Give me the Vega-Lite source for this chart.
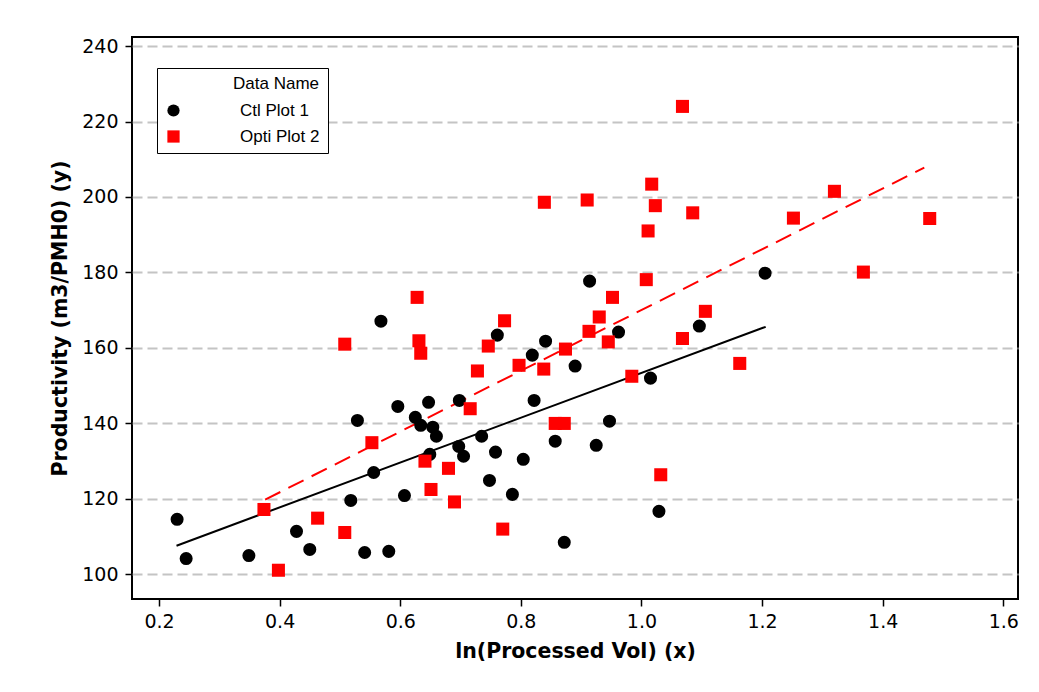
{
  "$schema": "https://vega.github.io/schema/vega-lite/v6.json",
  "width": 886,
  "height": 562,
  "autosize": {"type": "none"},
  "padding": {"left": 132, "top": 37, "right": 21, "bottom": 93},
  "background": "white",
  "config": {
    "view": {"stroke": "black", "strokeWidth": 2},
    "axis": {
      "labelFont": "DejaVu Sans",
      "labelFontSize": 19,
      "labelColor": "black",
      "titleFont": "DejaVu Sans",
      "titleFontWeight": "bold",
      "titleFontSize": 20.5,
      "titleColor": "black",
      "domain": false,
      "tickColor": "black",
      "tickSize": 7,
      "tickWidth": 1.5
    }
  },
  "datasets": {
    "points": [
      {"series": "Ctl Plot 1", "x": 0.230, "y": 114.6},
      {"series": "Ctl Plot 1", "x": 0.245, "y": 104.2},
      {"series": "Ctl Plot 1", "x": 0.349, "y": 105.0},
      {"series": "Ctl Plot 1", "x": 0.428, "y": 111.4},
      {"series": "Ctl Plot 1", "x": 0.450, "y": 106.6},
      {"series": "Ctl Plot 1", "x": 0.518, "y": 119.6},
      {"series": "Ctl Plot 1", "x": 0.529, "y": 140.8},
      {"series": "Ctl Plot 1", "x": 0.541, "y": 105.8},
      {"series": "Ctl Plot 1", "x": 0.556, "y": 127.0},
      {"series": "Ctl Plot 1", "x": 0.568, "y": 167.1},
      {"series": "Ctl Plot 1", "x": 0.581, "y": 106.1},
      {"series": "Ctl Plot 1", "x": 0.596, "y": 144.5},
      {"series": "Ctl Plot 1", "x": 0.607, "y": 120.9},
      {"series": "Ctl Plot 1", "x": 0.625, "y": 141.6},
      {"series": "Ctl Plot 1", "x": 0.634, "y": 139.5},
      {"series": "Ctl Plot 1", "x": 0.647, "y": 145.6},
      {"series": "Ctl Plot 1", "x": 0.649, "y": 131.8},
      {"series": "Ctl Plot 1", "x": 0.654, "y": 139.0},
      {"series": "Ctl Plot 1", "x": 0.660, "y": 136.6},
      {"series": "Ctl Plot 1", "x": 0.698, "y": 146.1},
      {"series": "Ctl Plot 1", "x": 0.697, "y": 133.9},
      {"series": "Ctl Plot 1", "x": 0.705, "y": 131.3},
      {"series": "Ctl Plot 1", "x": 0.735, "y": 136.6},
      {"series": "Ctl Plot 1", "x": 0.748, "y": 124.9},
      {"series": "Ctl Plot 1", "x": 0.758, "y": 132.4},
      {"series": "Ctl Plot 1", "x": 0.761, "y": 163.4},
      {"series": "Ctl Plot 1", "x": 0.786, "y": 121.2},
      {"series": "Ctl Plot 1", "x": 0.804, "y": 130.5},
      {"series": "Ctl Plot 1", "x": 0.819, "y": 158.1},
      {"series": "Ctl Plot 1", "x": 0.822, "y": 146.1},
      {"series": "Ctl Plot 1", "x": 0.841, "y": 161.8},
      {"series": "Ctl Plot 1", "x": 0.857, "y": 135.3},
      {"series": "Ctl Plot 1", "x": 0.872, "y": 108.5},
      {"series": "Ctl Plot 1", "x": 0.890, "y": 155.2},
      {"series": "Ctl Plot 1", "x": 0.914, "y": 177.7},
      {"series": "Ctl Plot 1", "x": 0.925, "y": 134.2},
      {"series": "Ctl Plot 1", "x": 0.947, "y": 140.6},
      {"series": "Ctl Plot 1", "x": 0.962, "y": 164.2},
      {"series": "Ctl Plot 1", "x": 1.015, "y": 152.0},
      {"series": "Ctl Plot 1", "x": 1.029, "y": 116.7},
      {"series": "Ctl Plot 1", "x": 1.096, "y": 165.8},
      {"series": "Ctl Plot 1", "x": 1.205, "y": 179.8},
      {"series": "Opti Plot 2", "x": 0.374, "y": 117.2},
      {"series": "Opti Plot 2", "x": 0.398, "y": 101.1},
      {"series": "Opti Plot 2", "x": 0.463, "y": 114.9},
      {"series": "Opti Plot 2", "x": 0.508, "y": 111.1},
      {"series": "Opti Plot 2", "x": 0.508, "y": 161.0},
      {"series": "Opti Plot 2", "x": 0.553, "y": 134.9},
      {"series": "Opti Plot 2", "x": 0.628, "y": 173.4},
      {"series": "Opti Plot 2", "x": 0.631, "y": 161.9},
      {"series": "Opti Plot 2", "x": 0.634, "y": 158.6},
      {"series": "Opti Plot 2", "x": 0.641, "y": 130.0},
      {"series": "Opti Plot 2", "x": 0.651, "y": 122.5},
      {"series": "Opti Plot 2", "x": 0.680, "y": 128.1},
      {"series": "Opti Plot 2", "x": 0.690, "y": 119.2},
      {"series": "Opti Plot 2", "x": 0.716, "y": 143.9},
      {"series": "Opti Plot 2", "x": 0.728, "y": 153.9},
      {"series": "Opti Plot 2", "x": 0.746, "y": 160.5},
      {"series": "Opti Plot 2", "x": 0.773, "y": 167.2},
      {"series": "Opti Plot 2", "x": 0.770, "y": 112.0},
      {"series": "Opti Plot 2", "x": 0.797, "y": 155.4},
      {"series": "Opti Plot 2", "x": 0.838, "y": 154.4},
      {"series": "Opti Plot 2", "x": 0.839, "y": 198.6},
      {"series": "Opti Plot 2", "x": 0.857, "y": 140.0},
      {"series": "Opti Plot 2", "x": 0.872, "y": 140.0},
      {"series": "Opti Plot 2", "x": 0.874, "y": 159.7},
      {"series": "Opti Plot 2", "x": 0.910, "y": 199.2},
      {"series": "Opti Plot 2", "x": 0.913, "y": 164.4},
      {"series": "Opti Plot 2", "x": 0.930, "y": 168.2},
      {"series": "Opti Plot 2", "x": 0.945, "y": 161.6},
      {"series": "Opti Plot 2", "x": 0.952, "y": 173.4},
      {"series": "Opti Plot 2", "x": 0.984, "y": 152.5},
      {"series": "Opti Plot 2", "x": 1.008, "y": 178.1},
      {"series": "Opti Plot 2", "x": 1.011, "y": 191.0},
      {"series": "Opti Plot 2", "x": 1.017, "y": 203.4},
      {"series": "Opti Plot 2", "x": 1.023, "y": 197.7},
      {"series": "Opti Plot 2", "x": 1.032, "y": 126.4},
      {"series": "Opti Plot 2", "x": 1.068, "y": 224.0},
      {"series": "Opti Plot 2", "x": 1.068, "y": 162.5},
      {"series": "Opti Plot 2", "x": 1.085, "y": 195.8},
      {"series": "Opti Plot 2", "x": 1.106, "y": 169.7},
      {"series": "Opti Plot 2", "x": 1.163, "y": 155.9},
      {"series": "Opti Plot 2", "x": 1.252, "y": 194.4},
      {"series": "Opti Plot 2", "x": 1.320, "y": 201.5},
      {"series": "Opti Plot 2", "x": 1.368, "y": 180.1},
      {"series": "Opti Plot 2", "x": 1.478, "y": 194.3}
    ],
    "fits": [
      {"series": "Ctl Plot 1", "x": 0.229, "y": 107.6},
      {"series": "Ctl Plot 1", "x": 1.206, "y": 165.6},
      {"series": "Opti Plot 2", "x": 0.376, "y": 119.8},
      {"series": "Opti Plot 2", "x": 1.469, "y": 207.8}
    ]
  },
  "encoding": {
    "x": {
      "field": "x", "type": "quantitative",
      "scale": {"domain": [0.1552, 1.6244], "nice": false, "zero": false},
      "axis": {"title": "ln(Processed Vol) (x)", "values": [0.2, 0.4, 0.6, 0.8, 1.0, 1.2, 1.4, 1.6], "format": ".1f", "grid": false, "labelPadding": 6, "titlePadding": 10}
    },
    "y": {
      "field": "y", "type": "quantitative",
      "scale": {"domain": [93.48, 242.39], "nice": false, "zero": false},
      "axis": {"title": "Productivity (m3/PMH0) (y)", "values": [100, 120, 140, 160, 180, 200, 220, 240], "grid": true, "gridColor": "#c4c4c4", "gridWidth": 2, "gridDash": [10, 5], "labelPadding": 7, "titlePadding": 11}
    }
  },
  "layer": [
    {
      "data": {"name": "fits"},
      "transform": [{"filter": "datum.series === 'Ctl Plot 1'"}],
      "mark": {"type": "line", "strokeWidth": 2, "color": "#000000"},
      "encoding": {}
    },
    {
      "data": {"name": "fits"},
      "transform": [{"filter": "datum.series === 'Opti Plot 2'"}],
      "mark": {"type": "line", "strokeWidth": 2, "color": "#ff0000", "strokeDash": [17, 9]},
      "encoding": {}
    },
    {
      "data": {"name": "points"},
      "mark": {"type": "point", "filled": true, "opacity": 1},
      "encoding": {
        "color": {
          "field": "series", "type": "nominal",
          "scale": {"domain": ["Ctl Plot 1", "Opti Plot 2"], "range": ["#000000", "#ff0000"]},
          "legend": {
            "title": "Data Name",
            "orient": "none",
            "legendX": 25,
            "legendY": 31,
            "strokeColor": "black",
            "fillColor": "white",
            "padding": 8,
            "titleFont": "Liberation Sans",
            "titleFontWeight": "normal",
            "titleFontSize": 17,
            "titleColor": "black",
            "titleAnchor": "end",
            "titlePadding": 9,
            "labelFont": "Liberation Sans",
            "labelFontSize": 17,
            "labelColor": "black",
            "labelOffset": 58,
            "symbolSize": 150,
            "rowPadding": 8,
            "encode": {
              "symbols": {
                "shape": {"value": {"expr": "datum.label === 'Ctl Plot 1' ? 'M-1.39,0L7.1,0M1.72,0A1.14,1.14,0,1,1,4,0A1.14,1.14,0,1,1,1.72,0Z' : 'M-1.39,0L6.29,0M1.63,-0.98L3.59,-0.98L3.59,0.98L1.63,0.98Z'"}},
                "stroke": {"value": {"expr": "datum.label === 'Ctl Plot 1' ? '#000000' : '#ff0000'"}},
                "strokeWidth": {"value": 1.5}
              }
            }
          }
        },
        "shape": {"field": "series", "type": "nominal", "scale": {"domain": ["Ctl Plot 1", "Opti Plot 2"], "range": ["circle", "square"]}, "legend": null},
        "size": {"value": 170}
      }
    }
  ]
}
